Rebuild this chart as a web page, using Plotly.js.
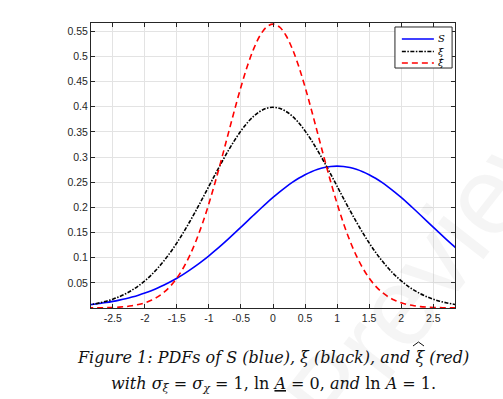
<!DOCTYPE html>
<html>
<head>
<meta charset="utf-8">
<script src="https://cdn.plot.ly/plotly-3.0.1.min.js"></script>
<style>html,body{margin:0;padding:0;background:#fff;}#chart{width:503px;height:399px;}</style>
</head>
<body>
<div id="chart"></div>
<script>
// x positions
const xs = [-2.9,-2.8,-2.7,-2.6,-2.5,-2.4,-2.3,-2.2,-2.1,-2.0,-1.9,-1.8,-1.7,-1.6,-1.5,-1.4,-1.3,-1.2,-1.1,-1.0,
  -0.9,-0.8,-0.7,-0.6,-0.5,-0.4,-0.3,-0.2,-0.1,0.0,0.1,0.2,0.3,0.4,0.5,0.6,0.7,0.8,0.9,1.0,
  1.1,1.2,1.3,1.4,1.5,1.6,1.7,1.8,1.9,2.0,2.1,2.2,2.3,2.4,2.5,2.6,2.7,2.8,2.9];
// PDF of S (blue)
const pdfS = [0.0063,0.0076,0.0092,0.0110,0.0132,0.0157,0.0185,0.0218,0.0255,0.0297,0.0345,0.0397,0.0456,0.0521,0.0591,
  0.0668,0.0752,0.0841,0.0937,0.1038,0.1144,0.1255,0.1370,0.1487,0.1607,0.1728,0.1849,0.1968,0.2085,0.2197,
  0.2304,0.2404,0.2496,0.2578,0.2650,0.2710,0.2758,0.2793,0.2814,0.2821,0.2814,0.2793,0.2758,0.2710,0.2650,
  0.2578,0.2496,0.2404,0.2304,0.2197,0.2085,0.1968,0.1849,0.1728,0.1607,0.1487,0.1370,0.1255,0.1144];
// PDF of xi (black)
const pdfXi = [0.0060,0.0079,0.0104,0.0136,0.0175,0.0224,0.0283,0.0355,0.0440,0.0540,0.0656,0.0790,0.0940,0.1109,0.1295,
  0.1497,0.1714,0.1942,0.2179,0.2420,0.2661,0.2897,0.3123,0.3332,0.3521,0.3683,0.3814,0.3910,0.3970,0.3989,
  0.3970,0.3910,0.3814,0.3683,0.3521,0.3332,0.3123,0.2897,0.2661,0.2420,0.2179,0.1942,0.1714,0.1497,0.1295,
  0.1109,0.0940,0.0790,0.0656,0.0540,0.0440,0.0355,0.0283,0.0224,0.0175,0.0136,0.0104,0.0079,0.0060];
// PDF of xi-hat (red)
const pdfXiHat = [0.0001,0.0002,0.0004,0.0007,0.0011,0.0018,0.0028,0.0045,0.0069,0.0103,0.0153,0.0221,0.0314,0.0436,0.0595,
  0.0795,0.1041,0.1337,0.1682,0.2076,0.2510,0.2975,0.3456,0.3936,0.4394,0.4808,0.5156,0.5421,0.5586,0.5642,
  0.5586,0.5421,0.5156,0.4808,0.4394,0.3936,0.3456,0.2975,0.2510,0.2076,0.1682,0.1337,0.1041,0.0795,0.0595,
  0.0436,0.0314,0.0221,0.0153,0.0103,0.0069,0.0045,0.0028,0.0018,0.0011,0.0007,0.0004,0.0002,0.0001];
const seriesNames = ['S', 'ξ', 'ξ̂'];
const xTicks = [-2.5,-2,-1.5,-1,-0.5,0,0.5,1,1.5,2,2.5];
const xTickText = ['-2.5','-2','-1.5','-1','-0.5','0','0.5','1','1.5','2','2.5'];
const yTicks = [0.05,0.1,0.15,0.2,0.25,0.3,0.35,0.4,0.45,0.5,0.55];
const yTickText = ['0.05','0.1','0.15','0.2','0.25','0.3','0.35','0.4','0.45','0.5','0.55'];

const lineStyles = [
  {color: '#0000ff', width: 1.6, dash: 'solid'},
  {color: '#000000', width: 1.6, dash: '4px,1.5px,1.5px,1.5px'},
  {color: '#ff0000', width: 1.6, dash: '6px,4px'}
];
const seriesY = [pdfS, pdfXi, pdfXiHat];

const traces = seriesY.map((yv, i) => ({
  x: xs, y: yv, name: seriesNames[i], mode: 'lines', showlegend: false,
  line: Object.assign({shape: 'spline'}, lineStyles[i])
}));

const axCommon = {
  showline: true, linecolor: '#262626', linewidth: 1, mirror: 'ticks',
  ticks: 'inside', ticklen: 4, tickcolor: '#262626', tickwidth: 1,
  showgrid: true, gridcolor: '#e3e3e3', gridwidth: 1, zeroline: false,
  tickfont: {family: 'Liberation Sans, Arial, sans-serif', size: 10.5, color: '#262626'}
};

// custom compact legend (paper coordinates)
const shapes = [{type: 'rect', xref: 'paper', yref: 'paper', x0: 0.835, x1: 0.992, y0: 0.842, y1: 0.986,
  fillcolor: '#ffffff', line: {color: '#262626', width: 1}, layer: 'above'}];
const legY = [0.944, 0.900, 0.860];
const legendAnn = [];
seriesNames.forEach((nm, i) => {
  shapes.push({type: 'line', xref: 'paper', yref: 'paper', x0: 0.854, x1: 0.942, y0: legY[i], y1: legY[i],
    line: {color: lineStyles[i].color, width: 1.5, dash: lineStyles[i].dash}, layer: 'above'});
  legendAnn.push({xref: 'paper', yref: 'paper', x: 0.948, y: legY[i], xanchor: 'left', yanchor: 'middle', showarrow: false,
    text: '<i>' + nm + '</i>', font: {family: 'DejaVu Serif, serif', size: 10, color: '#000'}});
});
// wide hat over the xi in the caption
shapes.push({type: 'path', xref: 'paper', yref: 'paper', path: 'M 0.8846,-0.1333 L 0.8997,-0.1193 L 0.9148,-0.1333',
  line: {color: '#111', width: 1}, layer: 'above'});

const layout = {
  width: 503, height: 399,
  margin: {l: 91, r: 48, t: 23, b: 91},
  paper_bgcolor: '#ffffff', plot_bgcolor: '#ffffff',
  showlegend: false,
  xaxis: Object.assign({}, axCommon, {range: [-2.84, 2.84], tickmode: 'array', tickvals: xTicks, ticktext: xTickText}),
  yaxis: Object.assign({}, axCommon, {range: [0, 0.5665], tickmode: 'array', tickvals: yTicks, ticktext: yTickText}),
  shapes: shapes,
  annotations: [
    {xref: 'paper', yref: 'paper', x: 0.93, y: 0.15, xanchor: 'center', yanchor: 'middle', showarrow: false,
     text: 'Preview', textangle: -52,
     font: {family: 'Liberation Sans, Arial, sans-serif', size: 110, color: 'rgba(120,120,120,0.07)'}},
    {xref: 'paper', yref: 'paper', x: 0.5, y: -0.175, xanchor: 'center', yanchor: 'middle', showarrow: false,
     text: '<i>Figure 1: PDFs of S (blue), ξ (black), and ξ (red)</i>',
     font: {family: 'DejaVu Serif, serif', size: 16, color: '#111'}},
    {xref: 'paper', yref: 'paper', x: 0.5, y: -0.27, xanchor: 'center', yanchor: 'middle', showarrow: false,
     text: '<i>with σ</i><sub><i>ξ</i></sub> = <i>σ</i><sub><i>χ</i></sub> = 1, ln <u><i>A</i></u> = 0, <i>and</i> ln <i>A</i> = 1.',
     font: {family: 'DejaVu Serif, serif', size: 16, color: '#111'}}
  ].concat(legendAnn)
};

Plotly.newPlot('chart', traces, layout, {displayModeBar: false, staticPlot: true});
</script>
</body>
</html>
